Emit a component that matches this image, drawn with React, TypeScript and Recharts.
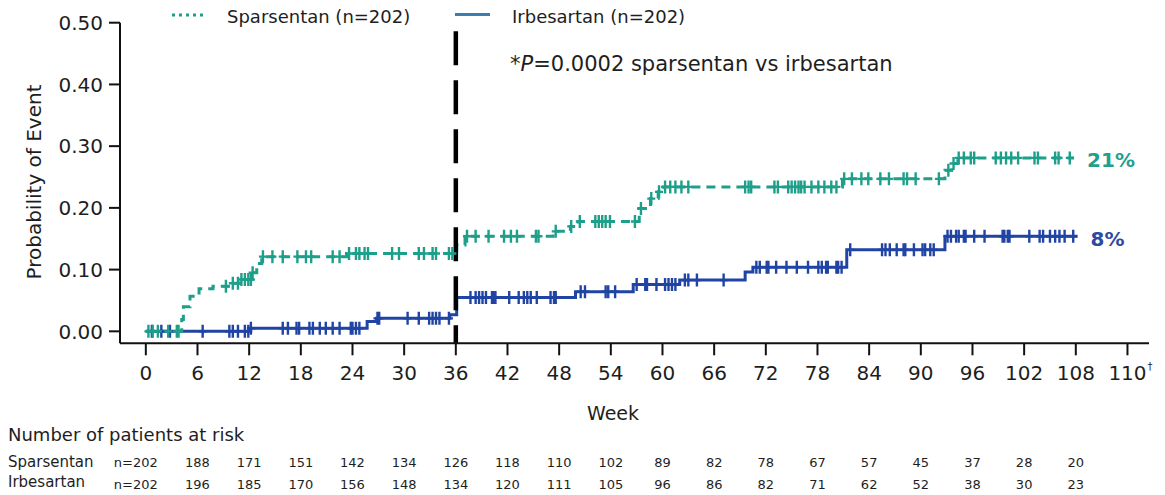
import React from 'react';
import { ComposedChart, Line, Scatter, XAxis, YAxis, ReferenceLine } from 'recharts';

const FONT = '"DejaVu Sans", Verdana, sans-serif';
const TEAL = '#1d9f8a';
const BLUE = '#2044a3';
const LEGEND_BLUE = '#3a7db3';
const INK = '#1e1e1e';

// Kaplan-Meier step curves (week, cumulative probability of event)
const spWeeks = [0, 4.17, 4.36, 5.13, 6.18, 7.8, 9.78, 10.94, 12.3, 12.88, 13.46, 23.3, 36.1, 37.07, 47.3, 49.3, 50.2, 57.3, 58.6, 59.5, 60.1, 80.9, 92.8, 93.6, 94.3, 107.8];
const spProb = [0, 0.019, 0.04, 0.057, 0.069, 0.073, 0.078, 0.084, 0.095, 0.11, 0.121, 0.126, 0.14, 0.154, 0.162, 0.17, 0.178, 0.199, 0.215, 0.226, 0.234, 0.247, 0.261, 0.272, 0.281, 0.281];
const irWeeks = [0, 12.1, 25.7, 26.8, 35.3, 36.1, 49.9, 56.6, 62.0, 69.6, 70.5, 81.4, 92.8, 108.2];
const irProb = [0, 0.005, 0.016, 0.021, 0.027, 0.055, 0.064, 0.076, 0.083, 0.096, 0.104, 0.132, 0.154, 0.154];

// Censoring marks (weeks)
const spCensor = [0.3, 0.8, 1.4, 2.6, 3.6, 3.8, 9.3, 10.1, 10.7, 11.1, 11.5, 11.9, 12.2, 12.4, 13.6, 14.7, 15.9, 17.6, 18.6, 19.2, 21.7, 22.5, 23.6, 24.4, 24.8, 25.4, 25.8, 28.6, 29.4, 31.7, 32.3, 33.3, 33.7, 35.2, 35.6, 37.3, 38.3, 39.8, 41.6, 42.4, 43.1, 45.3, 45.6, 47.6, 49.4, 50.4, 52.2, 52.6, 53, 53.4, 53.9, 56.8, 57.5, 58.7, 59.6, 60.3, 60.9, 61.5, 62.2, 63.0, 69.6, 70, 70.3, 73, 73.4, 74.6, 75, 75.4, 75.8, 76.1, 76.5, 77.3, 78.1, 78.8, 79.6, 80.2, 81.1, 82, 83.1, 83.9, 85.3, 86.3, 88, 88.4, 89.4, 92.1, 93.2, 93.8, 94.4, 95, 95.8, 96.2, 98.7, 99.3, 99.9, 100.5, 101.3, 103.2, 103.6, 105.6, 106, 107.3];
const irCensor = [0.7, 1.8, 2.8, 6.6, 9.7, 10.1, 10.7, 11.5, 11.9, 12.2, 15.9, 16.5, 17.5, 17.8, 19, 19.4, 20.2, 20.9, 21.7, 22.5, 23.8, 24, 24.4, 24.8, 26.9, 27.1, 30.4, 31.7, 32.9, 33.3, 33.7, 34.1, 35.2, 37.7, 38.3, 38.7, 39.1, 39.5, 40.2, 40.4, 40.6, 42.2, 43.3, 43.9, 44.3, 44.7, 45.4, 47, 47.4, 47.6, 50.5, 51, 53.4, 53.7, 54.5, 57, 58, 58.2, 59.3, 60.3, 60.7, 61.1, 61.5, 62.6, 63, 64, 67.1, 70.9, 71.3, 72.1, 72.3, 73.2, 74.4, 75.6, 76.9, 78.1, 78.5, 79, 79.2, 80.2, 80.4, 80.8, 81.8, 85.5, 85.9, 86.4, 87.2, 88, 88.2, 89.2, 90.2, 90.5, 91.1, 91.5, 93.1, 93.5, 94.1, 94.4, 95, 95.2, 96.2, 97.4, 99.5, 99.7, 100.1, 100.3, 102.6, 103.8, 104.2, 105, 105.6, 106.1, 106.7, 107.7];

// Axes
const weekTicks = [0, 6, 12, 18, 24, 30, 36, 42, 48, 54, 60, 66, 72, 78, 84, 90, 96, 102, 108, 114];
const weekTickLabels = ['0', '6', '12', '18', '24', '30', '36', '42', '48', '54', '60', '66', '72', '78', '84', '90', '96', '102', '108', '110'];
const probTicks = [0, 0.1, 0.2, 0.3, 0.4, 0.5];

// Number at risk
const riskWeeks = [0, 6, 12, 18, 24, 30, 36, 42, 48, 54, 60, 66, 72, 78, 84, 90, 96, 102, 108];
const spRisk = [202, 188, 171, 151, 142, 134, 126, 118, 110, 102, 89, 82, 78, 67, 57, 45, 37, 28, 20];
const irRisk = [202, 196, 185, 170, 156, 148, 134, 120, 111, 105, 96, 86, 82, 71, 62, 52, 38, 30, 23];

const spData = spWeeks.map((w, i) => ({ week: w, p: spProb[i] }));
const irData = irWeeks.map((w, i) => ({ week: w, p: irProb[i] }));

const stepAt = (weeks: number[], probs: number[], w: number) => {
  let v = probs[0];
  for (let i = 0; i < weeks.length; i++) if (weeks[i] <= w) v = probs[i];
  return v;
};
const spCensorData = spCensor.map((w) => ({ week: w, p: stepAt(spWeeks, spProb, w) }));
const irCensorData = irCensor.map((w) => ({ week: w, p: stepAt(irWeeks, irProb, w) }));

const X_DOMAIN: [number, number] = [-3, 116.5];

const censorShape = (color: string) => (props: any) => {
  const { cx, cy } = props;
  if (cx == null || cy == null) return <g />;
  return (
    <g stroke={color} strokeWidth={2.4}>
      <line x1={cx} x2={cx} y1={cy - 6.5} y2={cy + 6.5} />
      <line x1={cx - 4} x2={cx + 4} y1={cy} y2={cy} />
    </g>
  );
};

const XTick = (props: any) => {
  const { x, y, payload } = props;
  const i = weekTicks.indexOf(payload.value);
  const last = i === weekTicks.length - 1;
  return (
    <g>
      <text x={x} y={y + 25} textAnchor="middle" fontSize={20} fill={INK} fontFamily={FONT}>
        {weekTickLabels[i]}
      </text>
      {last && (
        <text x={x + 20} y={y + 15} fontSize={10} fill={INK} fontFamily={FONT}>
          †
        </text>
      )}
    </g>
  );
};

const YTick = (props: any) => {
  const { x, y, payload } = props;
  return (
    <text x={x} y={y} dy="0.36em" textAnchor="end" fontSize={20} fill={INK} fontFamily={FONT}>
      {Number(payload.value).toFixed(2)}
    </text>
  );
};

const makeRiskTick = (name: string, counts: number[], numDy: number, nameDy: number) => (props: any) => {
  const { x, y, payload } = props;
  const i = riskWeeks.indexOf(payload.value);
  if (i < 0) return <g />;
  if (i === 0) {
    return (
      <g fontFamily={FONT} fill={INK}>
        <text x={8} y={y + nameDy} fontSize={15} textAnchor="start">
          {name}
        </text>
        <text x={x - 10} y={y + numDy} fontSize={13} textAnchor="middle">
          {'n=' + counts[0]}
        </text>
      </g>
    );
  }
  return (
    <text x={x} y={y + numDy} fontSize={13} textAnchor="middle" fill={INK} fontFamily={FONT}>
      {counts[i]}
    </text>
  );
};

const endLabel = (text: string, color: string, n: number, dy: number) => (props: any) => {
  const { x, y, index } = props;
  if (index !== n - 1) return <g />;
  return (
    <text x={x + 13} y={y + dy} fontSize={20} fontWeight="bold" fill={color} fontFamily={FONT}>
      {text}
    </text>
  );
};

export default function App() {
  return (
    <div style={{ position: 'absolute', left: 0, top: 0, width: 1165, height: 495, background: '#fff', fontFamily: FONT }}>
      <ComposedChart width={1165} height={495} margin={{ top: 22.7, right: 16, bottom: 7.7, left: 60 }}>
        <XAxis
          xAxisId="main"
          type="number"
          dataKey="week"
          domain={X_DOMAIN}
          allowDataOverflow
          ticks={weekTicks}
          interval={0}
          tick={<XTick />}
          tickSize={12}
          tickMargin={0}
          height={100}
          axisLine={{ stroke: '#111', strokeWidth: 2 }}
          tickLine={{ stroke: '#111', strokeWidth: 2 }}
        />
        <XAxis
          xAxisId="r1"
          type="number"
          dataKey="week"
          domain={X_DOMAIN}
          allowDataOverflow
          ticks={riskWeeks}
          interval={0}
          tick={makeRiskTick('Sparsentan', spRisk, 24, 24)}
          tickSize={0}
          tickMargin={0}
          height={22}
          axisLine={false}
          tickLine={false}
        />
        <XAxis
          xAxisId="r2"
          type="number"
          dataKey="week"
          domain={X_DOMAIN}
          allowDataOverflow
          ticks={riskWeeks}
          interval={0}
          tick={makeRiskTick('Irbesartan', irRisk, 24, 22)}
          tickSize={0}
          tickMargin={0}
          height={22}
          axisLine={false}
          tickLine={false}
        />
        <YAxis
          yAxisId="main"
          type="number"
          dataKey="p"
          domain={[-0.0194, 0.5]}
          allowDataOverflow
          ticks={probTicks}
          interval={0}
          tick={<YTick />}
          tickSize={11}
          tickMargin={6}
          width={60}
          axisLine={{ stroke: '#111', strokeWidth: 2 }}
          tickLine={{ stroke: '#111', strokeWidth: 2 }}
        />
        <Line
          xAxisId="main"
          yAxisId="main"
          data={irData}
          dataKey="p"
          type="stepAfter"
          stroke={BLUE}
          strokeWidth={3}
          dot={false}
          activeDot={false}
          isAnimationActive={false}
          label={endLabel('8%', '#2a4aa3', irData.length, 10)}
        />
        <Line
          xAxisId="main"
          yAxisId="main"
          data={spData}
          dataKey="p"
          type="stepAfter"
          stroke={TEAL}
          strokeWidth={3}
          strokeDasharray="9 6"
          dot={false}
          activeDot={false}
          isAnimationActive={false}
          label={endLabel('21%', '#23a08d', spData.length, 9)}
        />
        <Scatter xAxisId="main" yAxisId="main" data={irCensorData} dataKey="p" shape={censorShape(BLUE)} isAnimationActive={false} />
        <Scatter xAxisId="main" yAxisId="main" data={spCensorData} dataKey="p" shape={censorShape(TEAL)} isAnimationActive={false} />
        <ReferenceLine
          xAxisId="main"
          yAxisId="main"
          segment={[{ x: 36, y: 0.486 }, { x: 36, y: -0.0194 }]}
          stroke="#000"
          strokeWidth={4.5}
          strokeDasharray="34 15"
          ifOverflow="visible"
        />
      </ComposedChart>
      <svg width={1165} height={495} style={{ position: 'absolute', left: 0, top: 0, pointerEvents: 'none' }}>
        <g fontFamily={FONT} fill={INK}>
          <line x1={172} x2={205} y1={15} y2={15} stroke={TEAL} strokeWidth={3} strokeDasharray="3 4" />
          <text x={227} y={23} fontSize={18}>Sparsentan (n=202)</text>
          <line x1={455} x2={490} y1={14.5} y2={14.5} stroke={LEGEND_BLUE} strokeWidth={3} />
          <text x={512} y={23} fontSize={18}>Irbesartan (n=202)</text>
          <text x={510} y={71} fontSize={21}>
            *<tspan fontStyle="italic">P</tspan>=0.0002 sparsentan vs irbesartan
          </text>
          <text x={613} y={420} fontSize={19} textAnchor="middle">Week</text>
          <text x={8} y={441} fontSize={18}>Number of patients at risk</text>
          <text x={0} y={0} fontSize={20} textAnchor="middle" transform="translate(41 182) rotate(-90)">
            Probability of Event
          </text>
        </g>
      </svg>
    </div>
  );
}
